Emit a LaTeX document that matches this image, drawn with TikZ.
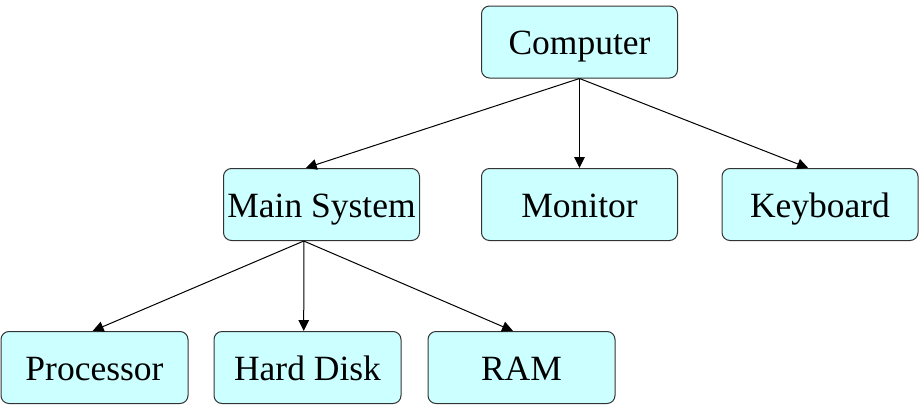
\documentclass[tikz,border=0pt]{standalone}
\usepackage{fontspec}
\setmainfont{Liberation Serif}
\usetikzlibrary{arrows.meta,calc}
\definecolor{boxfill}{HTML}{CCFFFF}
\definecolor{boxline}{HTML}{333333}
\begin{document}
\begin{tikzpicture}[x=1pt,y=-1pt,
  box/.style={draw=boxline,fill=boxfill,line width=1pt,rounded corners=8pt,
    inner sep=0pt,minimum height=72pt,text height=25pt,text depth=0pt,
    font=\fontsize{35.5}{40}\selectfont},
  wide/.style={box,minimum width=196pt},
  narrow/.style={box,minimum width=187pt},
  link/.style={line width=1pt,-{Triangle[length=11pt,width=10.5pt]}}]
\useasboundingbox (0,0) rectangle (921,407);
\node[wide]   (comp) at (579.5,42)    {Computer};
\node[wide]   (ms)   at (321.5,204.5) {Main System};
\node[wide]   (mon)  at (579.5,204.5) {Monitor};
\node[wide]   (kb)   at (820,204.5)   {Keyboard};
\node[narrow] (proc) at (94.5,367.5)  {Processor};
\node[narrow] (hd)   at (307.5,367.5) {Hard Disk};
\node[narrow] (ram)  at (521.5,367.5) {RAM};
\coordinate (msTop) at ($(ms.north west)!0.42!(ms.north east)$);
\coordinate (kbTop) at ($(kb.north west)!0.44!(kb.north east)$);
\coordinate (msBot) at ($(ms.south west)!0.41!(ms.south east)$);
\coordinate (procTop) at ($(proc.north west)!0.49!(proc.north east)$);
\coordinate (hdTop) at ($(hd.north west)!0.48!(hd.north east)$);
\coordinate (ramTop) at ($(ram.north west)!0.455!(ram.north east)$);
\draw[link] (comp.south) -- (msTop);
\draw[link] (comp.south) -- (mon.north);
\draw[link] (comp.south) -- (kbTop);
\draw[link] (msBot) -- (procTop);
\draw[link] (msBot) -- (hdTop);
\draw[link] (msBot) -- (ramTop);
\end{tikzpicture}
\end{document}
